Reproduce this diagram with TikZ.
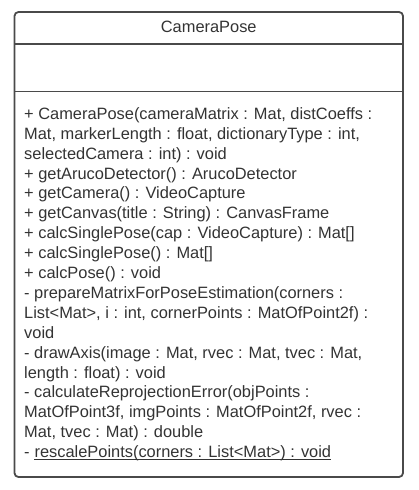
\documentclass[tikz,border=0pt]{standalone}
\usepackage{fontspec}
\setmainfont{Liberation Sans}
\definecolor{umlline}{HTML}{4A4A4A}
\definecolor{umltext}{HTML}{333333}
\tikzset{
  umlbox/.style={draw=umlline, line width=1.8pt, rounded corners=4pt},
  umldiv/.style={draw=umlline, line width=1.8pt},
  member/.style={anchor=base west, inner sep=0pt, text=umltext, font=\fontsize{16.4}{19}\selectfont},
  title/.style={anchor=base, inner sep=0pt, text=umltext, font=\fontsize{16.4}{19}\selectfont},
}
\begin{document}
\begin{tikzpicture}[x=1pt,y=-1pt]
\useasboundingbox (0,0) rectangle (418,490);
\draw[umlbox] (14.5,12) rectangle (403,477);
\coordinate (d1l) at (14.5,44);
\coordinate (d1r) at (403,44);
\coordinate (d2l) at (14.5,91.5);
\coordinate (d2r) at (403,91.5);
\draw[umldiv] (d1l) -- (d1r);
\draw[umldiv] (d2l) -- (d2r);
\node[title] (t) at (208.75,32) {CameraPose};
\node[member] (m1) at (24,119.3) {+ CameraPose(cameraMatrix : Mat, distCoeffs :};
\node[member] (m2) at (24,139.2) {Mat, markerLength : float, dictionaryType : int,};
\node[member] (m3) at (24,159.1) {selectedCamera : int) : void};
\node[member] (m4) at (24,179.0) {+ getArucoDetector() : ArucoDetector};
\node[member] (m5) at (24,198.9) {+ getCamera() : VideoCapture};
\node[member] (m6) at (24,218.8) {+ getCanvas(title : String) : CanvasFrame};
\node[member] (m7) at (24,238.7) {+ calcSinglePose(cap : VideoCapture) : Mat[]};
\node[member] (m8) at (24,258.6) {+ calcSinglePose() : Mat[]};
\node[member] (m9) at (24,278.5) {+ calcPose() : void};
\node[member] (m10) at (24,298.4) {- prepareMatrixForPoseEstimation(corners :};
\node[member] (m11) at (24,318.3) {List<Mat>, i : int, cornerPoints : MatOfPoint2f) :};
\node[member] (m12) at (24,338.2) {void};
\node[member] (m13) at (24,358.1) {- drawAxis(image : Mat, rvec : Mat, tvec : Mat,};
\node[member] (m14) at (24,378.0) {length : float) : void};
\node[member] (m15) at (24,397.9) {- calculateReprojectionError(objPoints :};
\node[member] (m16) at (24,417.8) {MatOfPoint3f, imgPoints : MatOfPoint2f, rvec :};
\node[member] (m17) at (24,437.7) {Mat, tvec : Mat) : double};
\node[member] (m18) at (24,457.6) {-\kern0.2778em};
\node[member] (u) at (m18.base east) {rescalePoints(corners : List<Mat>) : void};
\draw[umltext, line width=1pt] ([yshift=-1.6pt]u.base west) -- ([yshift=-1.6pt]u.base east);
\end{tikzpicture}
\end{document}
